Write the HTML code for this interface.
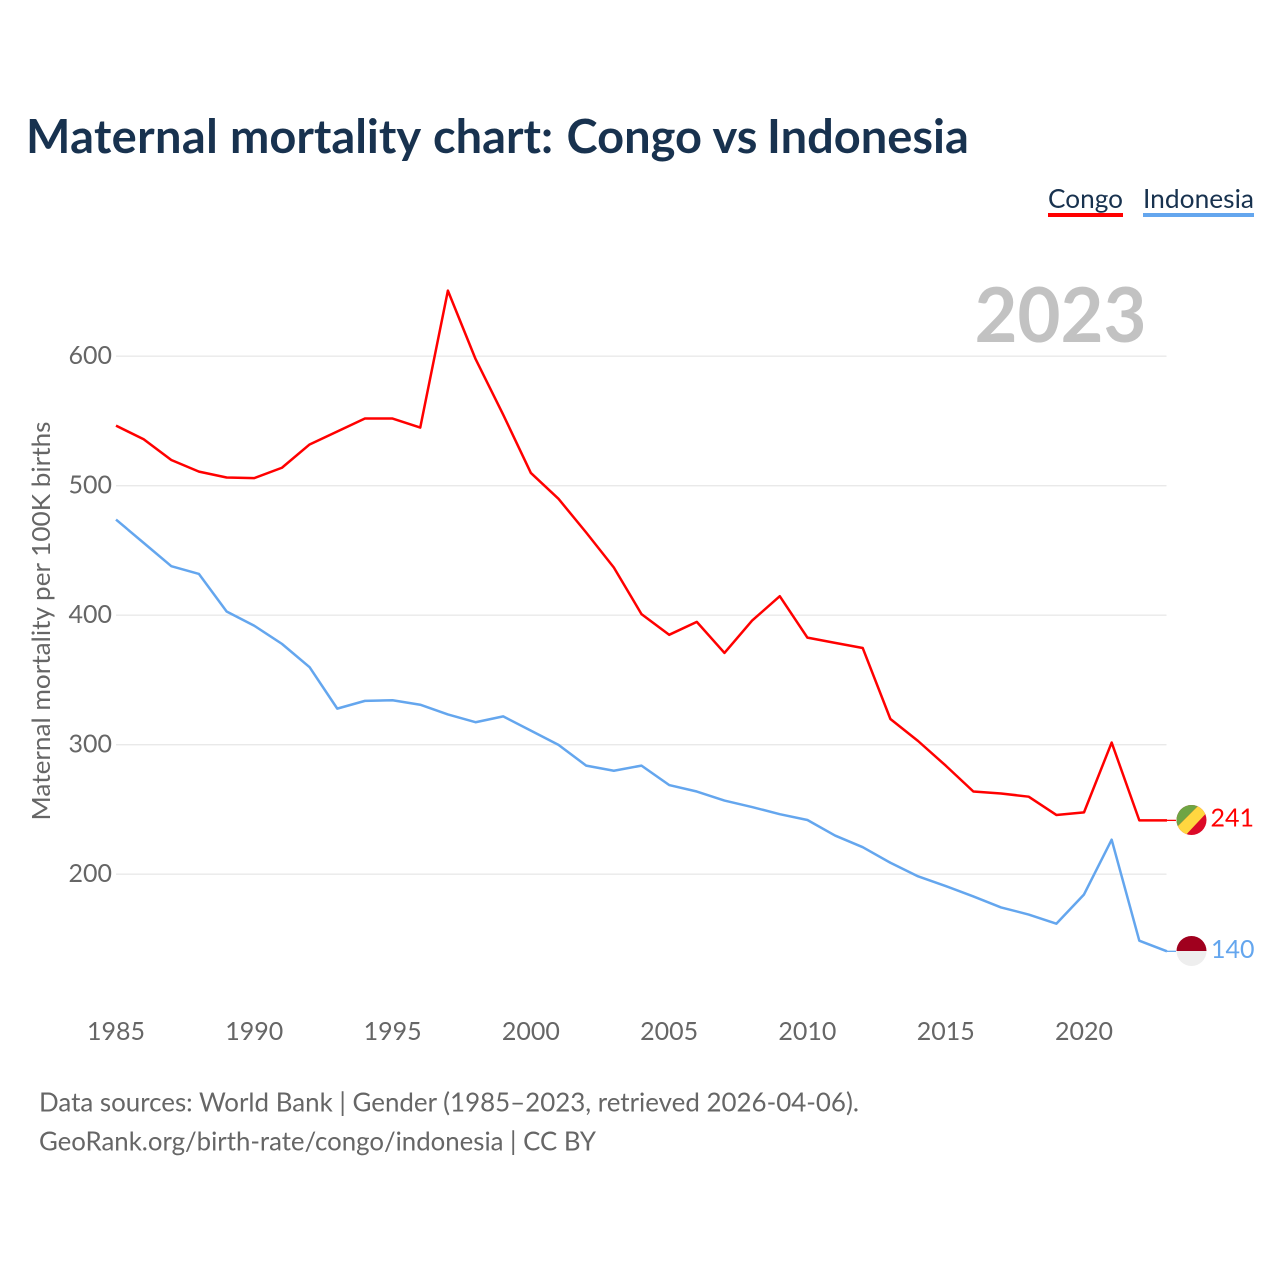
<!DOCTYPE html>
<html lang="en">
<head>
<meta charset="utf-8">
<title>Maternal mortality chart: Congo vs Indonesia</title>
<style>
html,body{margin:0;padding:0;background:#fff;width:1280px;height:1280px;overflow:hidden}
svg{display:block}
text{font-family:"Lato","Carlito","Liberation Sans",sans-serif}
</style>
</head>
<body>
<svg id="chart" xmlns="http://www.w3.org/2000/svg" width="1280" height="1280" viewBox="0 0 1280 1280">
  <rect x="0" y="0" width="1280" height="1280" fill="#ffffff"/>
  <text y="153" font-size="47" font-weight="700" fill="#18324f"><tspan x="26" letter-spacing="0.35">Maternal</tspan> <tspan x="230">mortality</tspan> <tspan x="433">chart:</tspan> <tspan x="566.5">Congo</tspan> <tspan x="712.5">vs</tspan> <tspan x="767">Indonesia</tspan></text>
  <g id="grid"></g>
  <text x="1146.5" y="342" font-size="76" font-weight="700" fill="#c2c2c2" text-anchor="end" textLength="172" lengthAdjust="spacingAndGlyphs">2023</text>
  <g id="yticks"></g>
  <g id="xticks"></g>
  <text transform="translate(50,621) rotate(-90)" font-size="25" fill="#666666" text-anchor="middle" textLength="399" lengthAdjust="spacingAndGlyphs">Maternal mortality per 100K births</text>
  <g id="series"></g>

  <g>
    <text x="1048" y="208" font-size="26" fill="#18324f" textLength="75" lengthAdjust="spacingAndGlyphs">Congo</text>
    <rect x="1048" y="213" width="75" height="4" fill="#ff0000"/>
  </g>
  <g>
    <text x="1143" y="208" font-size="26" fill="#18324f" textLength="111" lengthAdjust="spacingAndGlyphs">Indonesia</text>
    <rect x="1143" y="213" width="111" height="4" fill="#64a6ee"/>
  </g>

  <defs>
    <clipPath id="flagClipCongo"><circle cx="1191.5" cy="820" r="15"/></clipPath>
    <clipPath id="flagClipIndonesia"><circle cx="1191.5" cy="951" r="15"/></clipPath>
  </defs>
  <g id="flagCongo">
    <g clip-path="url(#flagClipCongo)">
      <rect x="1172" y="800" width="40" height="40" fill="#dc0a28"/>
      <polygon points="1173,802 1202,802 1173,831" fill="#6ea544"/>
      <polygon points="1202,802 1211,808 1183,838 1173,831" fill="#ffd740"/>
    </g>
  </g>
  <g id="flagIndonesia">
    <g clip-path="url(#flagClipIndonesia)">
      <rect x="1176" y="935" width="31" height="16" fill="#a0001e"/>
      <rect x="1176" y="951" width="31" height="16" fill="#eeeeee"/>
    </g>
  </g>
  <text id="labelCongo" x="1210.5" y="826" font-size="25" fill="#ff0000"></text>
  <text id="labelIndonesia" x="1211" y="958" font-size="25" fill="#64a6ee"></text>

  <text x="39" y="1111.5" font-size="26" fill="#666666" textLength="820" lengthAdjust="spacingAndGlyphs">Data sources: World Bank | Gender (1985–2023, retrieved 2026-04-06).</text>
  <text x="39" y="1150.5" font-size="26" fill="#666666" textLength="557" lengthAdjust="spacingAndGlyphs">GeoRank.org/birth-rate/congo/indonesia | CC BY</text>
</svg>
<script>
const years = [1985,1986,1987,1988,1989,1990,1991,1992,1993,1994,1995,1996,1997,1998,1999,2000,2001,2002,2003,2004,2005,2006,2007,2008,2009,2010,2011,2012,2013,2014,2015,2016,2017,2018,2019,2020,2021,2022,2023];
const congoValues = [546.2,535.7,519.7,510.7,506.2,505.7,513.7,531.7,541.7,551.7,551.7,544.7,650.5,597.7,554.7,509.7,489.7,463.7,436.7,400.7,384.7,394.7,370.7,395.7,414.5,382.5,378.5,374.5,319.7,302.7,283.7,263.7,262.2,259.7,245.6,247.6,301.5,241.4,241.4];
const indonesiaValues = [473.7,455.7,437.7,431.7,402.7,391.7,377.7,359.7,327.7,333.7,334.2,330.7,323.2,317.2,321.7,310.7,299.7,283.7,279.7,283.7,268.7,263.7,256.7,251.7,246.2,241.7,229.7,220.7,208.7,198.2,190.7,182.7,174.2,168.7,161.6,184.2,226.5,148.5,140.3];
const yTickValues = [200,300,400,500,600];
const xTickValues = [1985,1990,1995,2000,2005,2010,2015,2020];

function xScale(year){ return 116 + (year - 1985) * (1084 - 116) / 35; }
function yScale(value){ return 874 - (value - 200) * (874 - 356) / 400; }

const NS = 'http://www.w3.org/2000/svg';
function make(tag, attrs){
  const el = document.createElementNS(NS, tag);
  for (const k in attrs) el.setAttribute(k, attrs[k]);
  return el;
}

const grid = document.getElementById('grid');
const yticks = document.getElementById('yticks');
yTickValues.forEach(function(v){
  const line = make('line', {x1:116, x2:1166.5, y1:yScale(v)+0.2, y2:yScale(v)+0.2, stroke:'#e9e9e9', 'stroke-width':1.3});
  
  
  grid.appendChild(line);
  const t = make('text', {x:112, y:yScale(v)+8, 'font-size':25, fill:'#666666', 'text-anchor':'end'});
  
  
  t.textContent = v;
  yticks.appendChild(t);
});

const xticks = document.getElementById('xticks');
xTickValues.forEach(function(y){
  const t = make('text', {x:xScale(y), y:1040, 'font-size':25, fill:'#666666', 'text-anchor':'middle'});
  
  
  t.textContent = y;
  xticks.appendChild(t);
});

function pathFor(values){
  return values.map(function(v,i){ return (i ? 'L' : 'M') + xScale(years[i]).toFixed(2) + ' ' + yScale(v).toFixed(2); }).join(' ');
}
const series = document.getElementById('series');

const indonesiaLine = make('path', {d:pathFor(indonesiaValues), fill:'none', stroke:'#64a6ee', 'stroke-width':2.5, 'stroke-linejoin':'round'});


series.appendChild(indonesiaLine);

const congoLine = make('path', {d:pathFor(congoValues), fill:'none', stroke:'#ff0000', 'stroke-width':2.5, 'stroke-linejoin':'round'});


series.appendChild(congoLine);

const lastCongo = congoValues[congoValues.length - 1];
const lastIndonesia = indonesiaValues[indonesiaValues.length - 1];
document.getElementById('labelCongo').textContent = Math.round(lastCongo);
document.getElementById('labelIndonesia').textContent = Math.round(lastIndonesia);
document.getElementById('labelCongo').setAttribute('y', yScale(lastCongo) + 6);
document.getElementById('labelIndonesia').setAttribute('y', yScale(lastIndonesia) + 6.5);

const congoStub = make('line', {x1:xScale(2023), x2:1176, y1:yScale(lastCongo), y2:yScale(lastCongo), stroke:'#ff0000', 'stroke-width':1.3});


series.appendChild(congoStub);

const indonesiaStub = make('line', {x1:xScale(2023), x2:1176, y1:yScale(lastIndonesia), y2:yScale(lastIndonesia), stroke:'#64a6ee', 'stroke-width':1.3});


series.appendChild(indonesiaStub);

document.getElementById('flagCongo').setAttribute('transform', 'translate(0,' + Math.round(yScale(lastCongo) - 820) + ')');
document.getElementById('flagIndonesia').setAttribute('transform', 'translate(0,' + Math.round(yScale(lastIndonesia) - 951) + ')');
</script>
</body>
</html>
